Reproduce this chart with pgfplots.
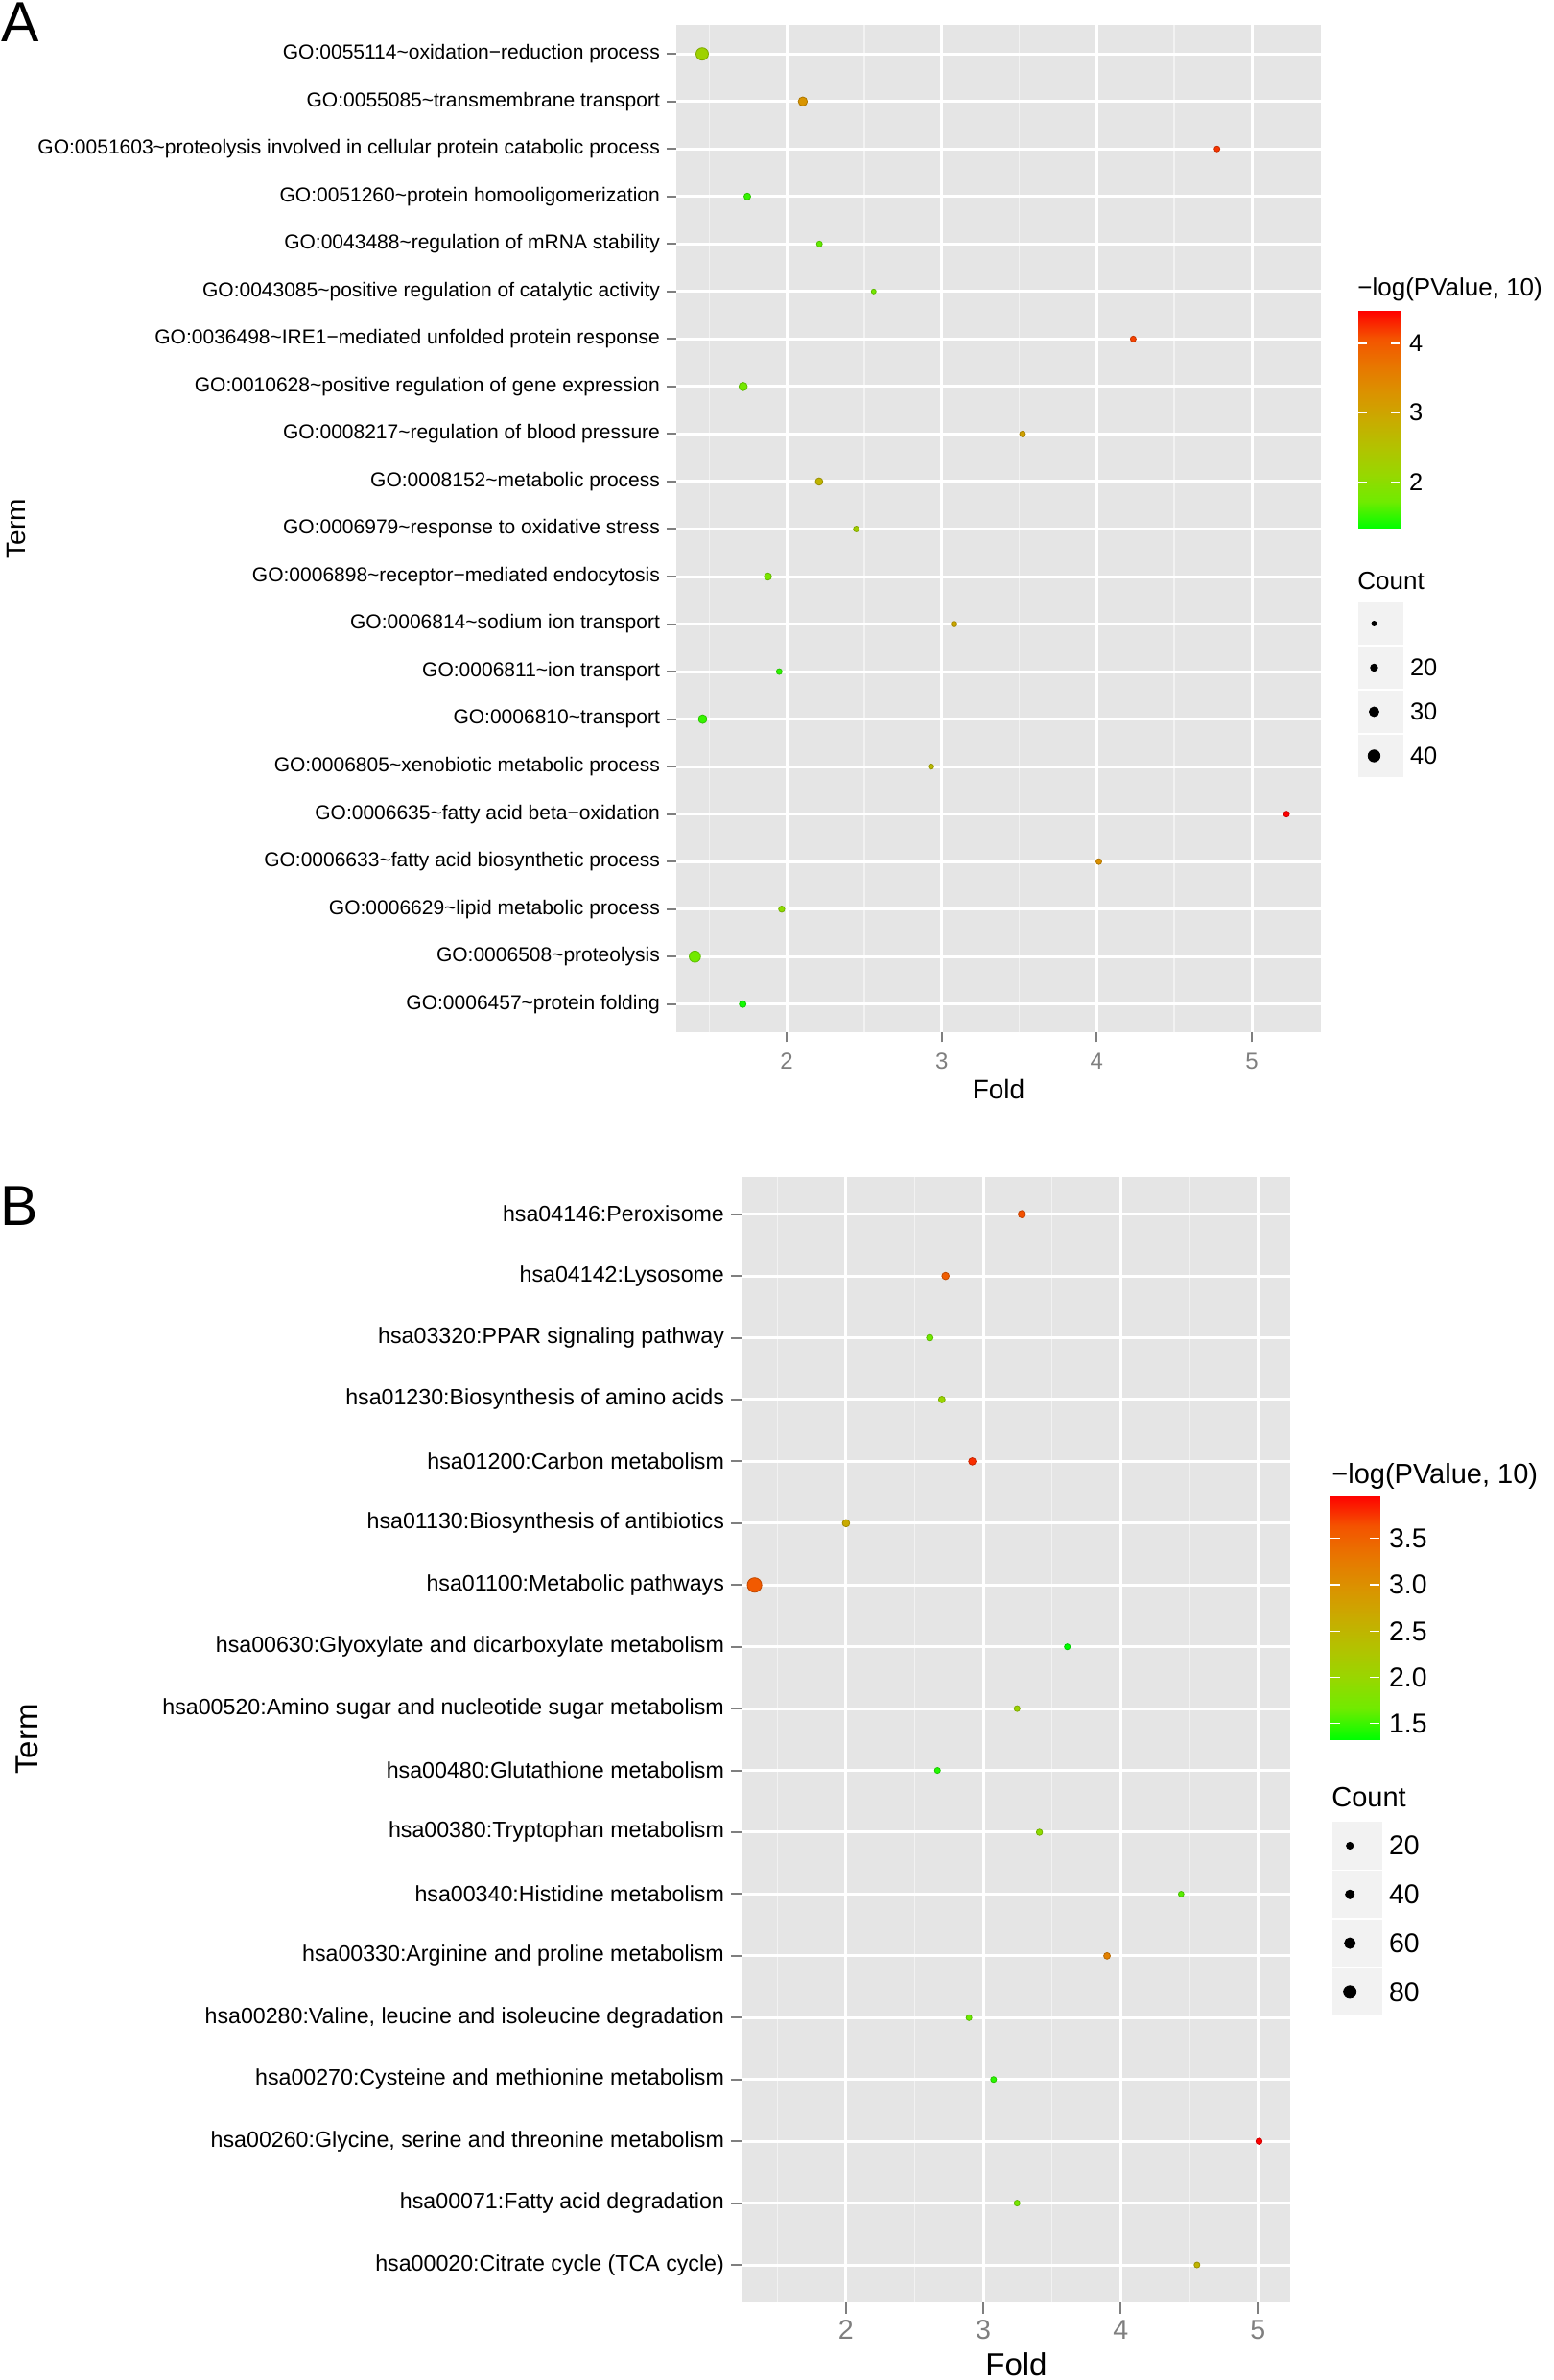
\documentclass[border=0pt]{standalone}
\usepackage{fontspec}
\setmainfont{Liberation Sans}
\usepackage{pgfplots}
\usepackage{pgfplotstable}
\pgfplotsset{compat=1.18}
\definecolor{grey90}{HTML}{E5E5E5}
\definecolor{grey95}{HTML}{F2F2F2}
\definecolor{grey50}{HTML}{7F7F7F}
\newcommand{\tl}{\textasciitilde}
\pgfplotsset{
  /pgf/number format/assume math mode=true,
  colormap={ggGR}{rgb255=(0,255,0) rgb255=(112,235,0) rgb255=(152,215,0) rgb255=(179,194,0) rgb255=(201,171,0) rgb255=(219,146,0) rgb255=(232,118,0) rgb255=(244,83,0) rgb255=(255,0,0)},
  ggpanel/.style={
    scale only axis, colormap name=ggGR,
    axis background/.style={fill=grey90},
    axis line style={draw=none},
    tick align=outside, xtick pos=bottom, ytick pos=left,
    tick style={color=grey50, line width=1pt},
    xmajorgrids, ymajorgrids, xminorgrids,
    major grid style={white, line width=1.5pt},
    minor grid style={grey95, line width=0.75pt},
    minor tick length=0pt,
    xtick={2,3,4,5}, minor xtick={1.5,2.5,3.5,4.5},
  },
  ggcbar/.style={
    scale only axis, colormap name=ggGR, enlargelimits=false,
    xmin=0, xmax=1,
    axis line style={draw=none}, xtick=\empty,
    tick align=inside, ytick pos=both, yticklabel pos=right,
    ytick style={draw=white, line width=0.6pt},
    axis on top,
  },
  sizelegend/.style={
    scale only axis, xmin=0, xmax=1, ymin=0.5, ymax=4.5,
    axis line style={draw=none}, xtick=\empty, ytick={1,2,3,4},
    major tick length=0pt, ytick pos=right, yticklabel pos=right, clip=false,
  },
}
\pgfplotstableread{
y fold pval count
21 1.455 2.20 42
20 2.104 3.25 28
19 4.775 4.22 14
18 1.746 1.52 18
17 2.211 1.68 14
16 2.561 1.77 10
15 4.235 4.16 14
14 1.719 1.77 25
13 3.521 3.06 14
12 2.209 2.74 21
11 2.449 2.27 14
10 1.879 1.83 20
9 3.079 2.96 14
8 1.952 1.49 14
7 1.458 1.52 26
6 2.931 2.65 12
5 5.223 4.47 14
4 4.013 3.31 14
3 1.968 2.02 16
2 1.408 1.74 37
1 1.716 1.39 18
}\dataA
\pgfplotstableread{
y fold pval count
18 3.281 3.64 25
17 2.725 3.54 25
16 2.610 1.67 17
15 2.698 2.01 17
14 2.920 3.78 25
13 2.000 2.65 25
12 1.334 3.57 100
11 3.612 1.33 9
10 3.246 2.04 9
9 2.666 1.43 9
8 3.409 1.91 13
7 4.441 1.59 6
6 3.901 3.17 17
5 2.896 1.65 9
4 3.075 1.46 9
3 5.008 3.96 13
2 3.246 1.72 9
1 4.556 2.51 9
}\dataB
\begin{document}
\begin{tikzpicture}
\useasboundingbox (0,0) rectangle (810pt,1240.5pt);
% ---------------- Panel A ----------------
\begin{axis}[ggpanel,
  at={(352.5pt,702.25pt)}, anchor=south west,
  width=336pt, height=525pt,
  xmin=1.288, xmax=5.445, ymin=0.4, ymax=21.6,
  major tick length=5pt,
  ytick={1,...,21},
  yticklabels={
    GO:0006457\tl protein folding,
    GO:0006508\tl proteolysis,
    GO:0006629\tl lipid metabolic process,
    GO:0006633\tl fatty acid biosynthetic process,
    GO:0006635\tl fatty acid beta−oxidation,
    GO:0006805\tl xenobiotic metabolic process,
    GO:0006810\tl transport,
    GO:0006811\tl ion transport,
    GO:0006814\tl sodium ion transport,
    GO:0006898\tl receptor−mediated endocytosis,
    GO:0006979\tl response to oxidative stress,
    GO:0008152\tl metabolic process,
    GO:0008217\tl regulation of blood pressure,
    GO:0010628\tl positive regulation of gene expression,
    GO:0036498\tl IRE1−mediated unfolded protein response,
    GO:0043085\tl positive regulation of catalytic activity,
    GO:0043488\tl regulation of mRNA stability,
    GO:0051260\tl protein homooligomerization,
    GO:0051603\tl proteolysis involved in cellular protein catabolic process,
    GO:0055085\tl transmembrane transport,
    GO:0055114\tl oxidation−reduction process},
  yticklabel style={font=\fontsize{10.5}{12}\selectfont, text=black},
  xticklabel style={font=\fontsize{12}{14}\selectfont, text=grey50, yshift=-2pt},
  point meta min=1.33, point meta max=4.47,
]
\addplot[scatter, only marks, mark=*, scatter src=explicit,
  visualization depends on={\thisrow{count}\as\cnt},
  scatter/@pre marker code/.append style={/tikz/mark size={0.625+0.0625*\cnt}}]
  table[x=fold, y=y, meta=pval]{\dataA};
\end{axis}
% colour bar A
\begin{axis}[ggcbar, at={(708pt,1078.5pt)}, anchor=north west,
  width=21.5pt, height=113.5pt,
  ymin=1.33, ymax=4.47, point meta min=1.33, point meta max=4.47,
  ytick={2,3,4}, major tick length=4.5pt,
  yticklabel style={font=\fontsize{12.7}{14}\selectfont, text=black, xshift=1.5pt}]
\addplot[surf, shader=interp, point meta=y, mesh/cols=2] coordinates {(0,1.33) (1,1.33) (0,4.47) (1,4.47)};
\end{axis}
% size legend A
\begin{axis}[sizelegend, at={(708pt,835pt)}, anchor=south west,
  width=23.5pt, height=92pt,
  yticklabels={40,30,20,{}},
  yticklabel style={font=\fontsize{12.7}{14}\selectfont, text=black}]
\fill[grey95] (axis cs:0,0.515) rectangle (axis cs:1,1.485);
\fill[grey95] (axis cs:0,1.515) rectangle (axis cs:1,2.485);
\fill[grey95] (axis cs:0,2.515) rectangle (axis cs:1,3.485);
\fill[grey95] (axis cs:0,3.515) rectangle (axis cs:1,4.485);
\addplot[only marks, mark=*, black, mark size=3.125pt] coordinates {(0.35,1)};
\addplot[only marks, mark=*, black, mark size=2.5pt] coordinates {(0.35,2)};
\addplot[only marks, mark=*, black, mark size=1.875pt] coordinates {(0.35,3)};
\addplot[only marks, mark=*, black, mark size=1.25pt] coordinates {(0.35,4)};
\end{axis}
\node[anchor=west, inner sep=0pt, font=\fontsize{13}{15}\selectfont] at (707.5pt,1089.5pt) {−log(PValue, 10)};
\node[anchor=west, inner sep=0pt, font=\fontsize{13}{15}\selectfont] at (707.5pt,937.65pt) {Count};
\node[rotate=90, font=\fontsize{14}{16}\selectfont] at (8.7pt,965pt) {Term};
\node[font=\fontsize{14}{16}\selectfont] at (520.5pt,672.5pt) {Fold};
\node[anchor=north west, inner sep=0pt, font=\fontsize{29.5}{32}\selectfont] at (0.5pt,1239.15pt) {A};
% ---------------- Panel B ----------------
\begin{axis}[ggpanel,
  at={(387pt,40.65pt)}, anchor=south west,
  width=285.5pt, height=586.35pt,
  xmin=1.246, xmax=5.235, ymin=0.4, ymax=18.6,
  major tick length=6pt,
  ytick={1,...,18},
  yticklabels={
    hsa00020:Citrate cycle (TCA cycle),
    hsa00071:Fatty acid degradation,
    {hsa00260:Glycine, serine and threonine metabolism},
    hsa00270:Cysteine and methionine metabolism,
    {hsa00280:Valine, leucine and isoleucine degradation},
    hsa00330:Arginine and proline metabolism,
    hsa00340:Histidine metabolism,
    hsa00380:Tryptophan metabolism,
    hsa00480:Glutathione metabolism,
    hsa00520:Amino sugar and nucleotide sugar metabolism,
    hsa00630:Glyoxylate and dicarboxylate metabolism,
    hsa01100:Metabolic pathways,
    hsa01130:Biosynthesis of antibiotics,
    hsa01200:Carbon metabolism,
    hsa01230:Biosynthesis of amino acids,
    hsa03320:PPAR signaling pathway,
    hsa04142:Lysosome,
    hsa04146:Peroxisome},
  yticklabel style={font=\fontsize{11.6}{13}\selectfont, text=black},
  xticklabel style={font=\fontsize{14.3}{16}\selectfont, text=grey50},
  point meta min=1.33, point meta max=3.96,
]
\addplot[scatter, only marks, mark=*, scatter src=explicit,
  visualization depends on={\thisrow{count}\as\cnt},
  scatter/@pre marker code/.append style={/tikz/mark size={1.3+0.025*\cnt}}]
  table[x=fold, y=y, meta=pval]{\dataB};
\end{axis}
% colour bar B
\begin{axis}[ggcbar, at={(693.5pt,460.85pt)}, anchor=north west,
  width=25.5pt, height=127pt,
  ymin=1.33, ymax=3.96, point meta min=1.33, point meta max=3.96,
  ytick={1.5,2,2.5,3,3.5}, major tick length=5pt,
  yticklabel={\pgfmathprintnumber[fixed,fixed zerofill,precision=1]{\tick}},
  yticklabel style={font=\fontsize{14.2}{16}\selectfont, text=black, xshift=1.5pt}]
\addplot[surf, shader=interp, point meta=y, mesh/cols=2] coordinates {(0,1.33) (1,1.33) (0,3.96) (1,3.96)};
\end{axis}
% size legend B
\begin{axis}[sizelegend, at={(694.5pt,189.6pt)}, anchor=south west,
  width=26pt, height=101.6pt,
  yticklabels={80,60,40,20},
  yticklabel style={font=\fontsize{14.2}{16}\selectfont, text=black}]
\fill[grey95] (axis cs:0,0.515) rectangle (axis cs:1,1.485);
\fill[grey95] (axis cs:0,1.515) rectangle (axis cs:1,2.485);
\fill[grey95] (axis cs:0,2.515) rectangle (axis cs:1,3.485);
\fill[grey95] (axis cs:0,3.515) rectangle (axis cs:1,4.485);
\addplot[only marks, mark=*, black, mark size=3.3pt] coordinates {(0.35,1)};
\addplot[only marks, mark=*, black, mark size=2.8pt] coordinates {(0.35,2)};
\addplot[only marks, mark=*, black, mark size=2.3pt] coordinates {(0.35,3)};
\addplot[only marks, mark=*, black, mark size=1.8pt] coordinates {(0.35,4)};
\end{axis}
\node[anchor=west, inner sep=0pt, font=\fontsize{14.5}{16}\selectfont] at (694pt,470.75pt) {−log(PValue, 10)};
\node[anchor=west, inner sep=0pt, font=\fontsize{14.5}{16}\selectfont] at (694pt,303.65pt) {Count};
\node[rotate=90, font=\fontsize{16.5}{18}\selectfont] at (14.2pt,334pt) {Term};
\node[font=\fontsize{16.5}{18}\selectfont] at (529.75pt,8pt) {Fold};
\node[anchor=north west, inner sep=0pt, font=\fontsize{29.5}{32}\selectfont] at (0pt,622.15pt) {B};
\end{tikzpicture}
\end{document}
